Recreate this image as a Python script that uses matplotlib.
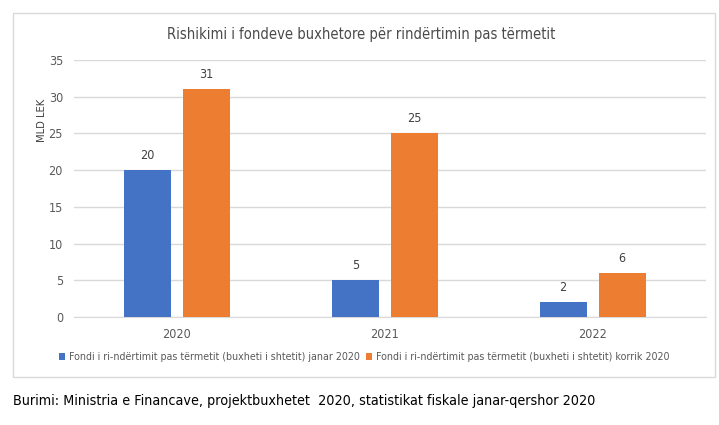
import matplotlib.pyplot as plt
import numpy as np
from matplotlib.patches import Rectangle

years = ["2020", "2021", "2022"]
janar = [20, 5, 2]
korrik = [31, 25, 6]
label_janar = "Fondi i ri-ndërtimit pas tërmetit (buxheti i shtetit) janar 2020"
label_korrik = "Fondi i ri-ndërtimit pas tërmetit (buxheti i shtetit) korrik 2020"
title = "Rishikimi i fondeve buxhetore për rindërtimin pas tërmetit"
source = "Burimi: Ministria e Financave, projektbuxhetet  2020, statistikat fiskale janar-qershor 2020"

plt.rcParams['font.family'] = ['DejaVu Sans']
plt.rcParams['font.stretch'] = 'condensed'

fig = plt.figure(figsize=(7.19, 4.25), dpi=100)
fig.patches.append(Rectangle((13/719, 1-377/425), 702/719, 364/425, transform=fig.transFigure,
                             fill=False, edgecolor="#D9D9D9", linewidth=1))
ax = fig.add_axes([74/719, 1-317/425, 632/719, 257/425])

x = np.arange(len(years))
w = 0.226
off = 0.142
b1 = ax.bar(x - off, janar, w, color="#4472C4", label=label_janar, zorder=3)
b2 = ax.bar(x + off, korrik, w, color="#ED7D31", label=label_korrik, zorder=3)
for bars in (b1, b2):
    ax.bar_label(bars, padding=6, fontsize=9, color="#404040")

ax.set_xlim(-0.495, 2.545)
ax.set_ylim(0, 35)
ax.set_yticks(range(0, 36, 5))
ax.set_xticks(x)
ax.set_xticklabels(years)
ax.grid(axis="y", color="#D9D9D9", linewidth=1, zorder=0)
for s in ["top", "right", "left"]:
    ax.spines[s].set_visible(False)
ax.spines["bottom"].set_color("#D9D9D9")
ax.tick_params(length=0, labelsize=9, labelcolor="#595959", pad=8)

fig.text(361/719, 1-34/425, title, ha="center", va="center", fontsize=10.5, color="#4a4a4a")
fig.text(42/719, 1-120/425, "MLD LEK", rotation=90, ha="center", va="center", fontsize=8, color="#404040")
fig.legend(loc="center", bbox_to_anchor=(364/719, 1-357/425), ncol=2, frameon=False,
           fontsize=7.7, handlelength=0.6, handleheight=0.6, handletextpad=0.3, columnspacing=0.6,
           labelcolor="#595959")
fig.text(13/719, 1-401/425, source, ha="left", va="center", fontsize=10.3, color="black")

fig.savefig("out.png", dpi=100)
